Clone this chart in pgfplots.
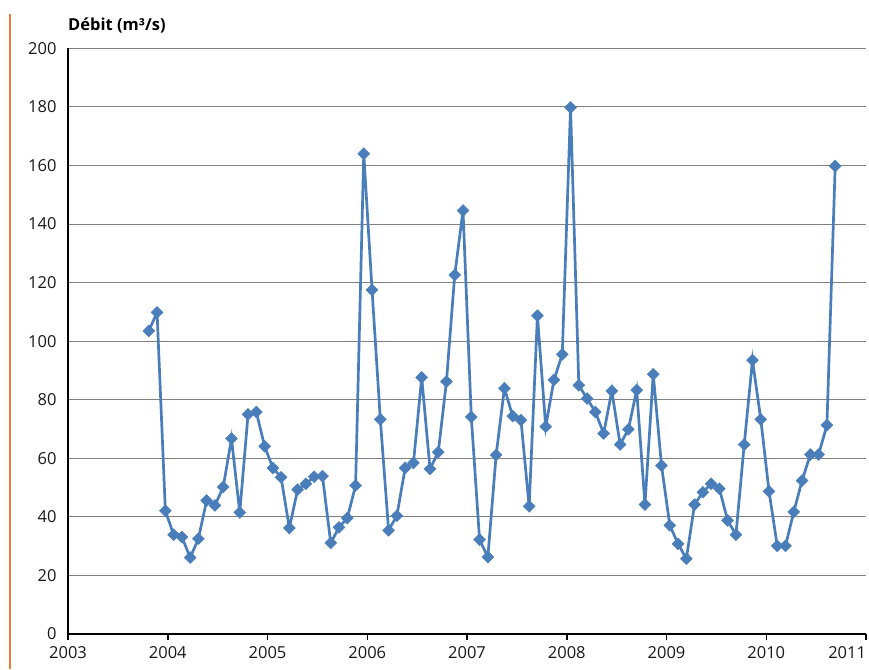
\documentclass[border=0pt]{standalone}
\usepackage{fontspec}
\setmainfont{Open Sans}
\usepackage{pgfplots}
\pgfplotsset{compat=1.18}
\definecolor{ser}{RGB}{74,126,187}
\definecolor{grd}{RGB}{128,128,128}
\definecolor{org}{RGB}{237,125,49}
\begin{document}
\begin{tikzpicture}[x=1pt,y=1pt]
\useasboundingbox (-68,-35) rectangle (801,634);
\draw[org, line width=2.2pt] (-58,620) -- (-58,-35);
\node[anchor=west, inner sep=0pt, font=\bfseries\fontsize{16.5}{20}\selectfont] at (0,609) {Débit (m³/s)};
\begin{axis}[at={(0,0)}, anchor=south west, scale only axis,
  width=798pt, height=585.7pt,
  xmin=2003, xmax=2011, ymin=0, ymax=200,
  xtick={2003,2004,2005,2006,2007,2008,2009,2010,2011},
  xticklabels={2003,2004,2005,2006,2007,2008,2009,2010,\llap{2011}},
  ytick={0,20,40,60,80,100,120,140,160,180,200},
  axis x line*=bottom, axis y line*=left,
  axis line style={black, line width=1.8pt, -},
  ymajorgrids, grid style={grd, line width=1pt},
  tick align=outside, major tick length=6pt,
  x tick style={black, line width=1.5pt},
  y tick style={draw=none},
  /pgf/number format/assume math mode=true,
  /pgf/number format/1000 sep={},
  tick label style={font=\fontsize{16.5}{19}\selectfont, text=black!90},
  yticklabel style={xshift=-2pt},
  xticklabel style={yshift=-3pt},
  clip=false,
]
\addplot[ser, line width=2.7pt, mark=square*, mark size=4.2pt, mark options={rotate=45, fill=ser, draw=ser, line width=0.5pt}] coordinates {
(2003.810,103.5) (2003.893,109.8) (2003.976,42.1) (2004.059,33.9) (2004.142,33.1)
(2004.225,26.1) (2004.307,32.5) (2004.390,45.6) (2004.473,43.9) (2004.556,50.2)
(2004.639,66.7) (2004.722,41.5) (2004.805,75.0) (2004.888,75.8) (2004.971,64.1)
(2005.054,56.7) (2005.136,53.5) (2005.219,36.2) (2005.302,49.3) (2005.385,51.3)
(2005.468,53.7) (2005.551,53.9) (2005.634,31.1) (2005.717,36.4) (2005.800,39.6)
(2005.883,50.7) (2005.965,164.0) (2006.048,117.5) (2006.131,73.3) (2006.214,35.4)
(2006.297,40.4) (2006.380,56.7) (2006.463,58.4) (2006.546,87.6) (2006.629,56.4)
(2006.712,62.1) (2006.794,86.2) (2006.877,122.6) (2006.960,144.6) (2007.043,74.1)
(2007.126,32.2) (2007.209,26.3) (2007.292,61.1) (2007.375,83.9) (2007.458,74.4)
(2007.541,73.0) (2007.623,43.6) (2007.706,108.7) (2007.789,70.8) (2007.872,86.8)
(2007.955,95.5) (2008.038,179.8) (2008.121,84.9) (2008.204,80.4) (2008.287,75.8)
(2008.370,68.5) (2008.452,83.0) (2008.535,64.7) (2008.618,69.9) (2008.701,83.3)
(2008.784,44.2) (2008.867,88.7) (2008.950,57.5) (2009.033,37.1) (2009.116,30.8)
(2009.199,25.7) (2009.281,44.2) (2009.364,48.4) (2009.447,51.3) (2009.530,49.6)
(2009.613,38.8) (2009.696,33.9) (2009.779,64.7) (2009.862,93.5) (2009.945,73.3)
(2010.028,48.7) (2010.110,30.1) (2010.193,30.1) (2010.276,41.7) (2010.359,52.4)
(2010.442,61.3) (2010.525,61.3) (2010.608,71.3) (2010.691,159.8)
};
\end{axis}
\end{tikzpicture}
\end{document}
